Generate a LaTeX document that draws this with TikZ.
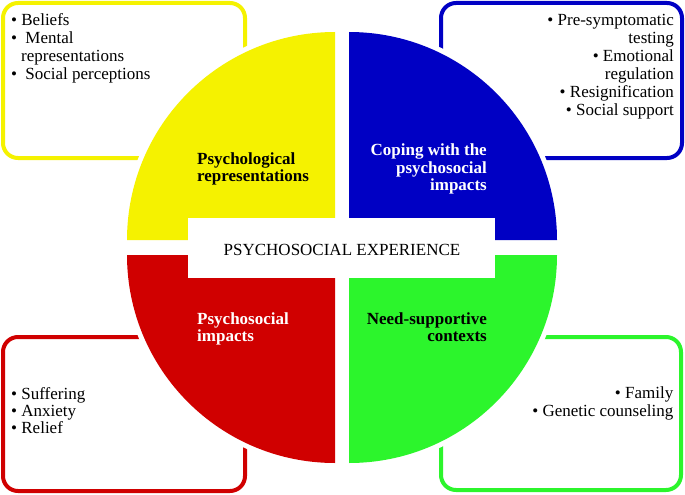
\documentclass[tikz,border=0pt]{standalone}
\usepackage{fontspec}
\setmainfont{Liberation Serif}
\definecolor{qyellow}{RGB}{245,242,0}
\definecolor{qblue}{RGB}{0,0,196}
\definecolor{qred}{RGB}{208,0,0}
\definecolor{qgreen}{RGB}{44,245,44}
\begin{document}
\begin{tikzpicture}[x=1pt,y=-1pt,
  box/.style={line width=4pt, rounded corners=15pt, fill=white},
  txt/.style={inner sep=0pt, font=\fontsize{17}{18}\selectfont},
  lab/.style={inner sep=0pt, font=\fontsize{17}{18}\selectfont\bfseries},
  halo/.style={draw=white, line width=10pt}]
\useasboundingbox (0,0) rectangle (685,495);
% corner boxes
\draw[box, draw=qyellow] (3,3) rectangle (245,158);
\draw[box, draw=qblue] (441,3) rectangle (682,158);
\draw[box, draw=qred] (3,337) rectangle (245,491);
\draw[box, draw=qgreen] (441,337) rectangle (681,490);
% halos of the quadrants
\draw[halo] (335,240) -- (127,240) arc[start angle=180,end angle=270,radius=208] -- cycle;
\draw[halo] (349,240) -- (349,32) arc[start angle=270,end angle=360,radius=208] -- cycle;
\draw[halo] (335,255) -- (127,255) arc[start angle=180,end angle=90,radius=208] -- cycle;
\draw[halo] (349,255) -- (557,255) arc[start angle=0,end angle=90,radius=208] -- cycle;
% quadrants
\fill[qyellow] (335,240) -- (127,240) arc[start angle=180,end angle=270,radius=208] -- cycle;
\fill[qblue] (349,240) -- (349,32) arc[start angle=270,end angle=360,radius=208] -- cycle;
\fill[qred] (335,255) -- (127,255) arc[start angle=180,end angle=90,radius=208] -- cycle;
\fill[qgreen] (349,255) -- (557,255) arc[start angle=0,end angle=90,radius=208] -- cycle;
% centre band
\fill[white] (188,218) rectangle (495,278);
\node[txt, anchor=base] (center) at (342,255) {PSYCHOSOCIAL EXPERIENCE};
% quadrant labels
\node[lab, anchor=base west] (yl1) at (197,164) {Psychological};
\node[lab, anchor=base west] (yl2) at (197,181.5) {representations};
\node[lab, anchor=base east, text=white] (bl1) at (487,155.5) {Coping with the};
\node[lab, anchor=base east, text=white] (bl2) at (487,173) {psychosocial};
\node[lab, anchor=base east, text=white] (bl3) at (487,190.5) {impacts};
\node[lab, anchor=base west, text=white] (rl1) at (197,324) {Psychosocial};
\node[lab, anchor=base west, text=white] (rl2) at (197,341.5) {impacts};
\node[lab, anchor=base east] (gl1) at (487,324) {Need-supportive};
\node[lab, anchor=base east] (gl2) at (487,341.5) {contexts};
% yellow box items
\node[txt, anchor=base west] (y1) at (11,26) {• Beliefs};
\node[txt, anchor=base west] (y2) at (11,44) {•\hspace{4pt} Mental};
\node[txt, anchor=base west] (y3) at (21,62) {representations};
\node[txt, anchor=base west] (y4) at (11,79.5) {•\hspace{4pt} Social perceptions};
% blue box items
\node[txt, anchor=base east] (b1) at (674,26) {• Pre-symptomatic};
\node[txt, anchor=base east] (b2) at (674,44) {testing};
\node[txt, anchor=base east] (b3) at (674,62) {• Emotional};
\node[txt, anchor=base east] (b4) at (674,80) {regulation};
\node[txt, anchor=base east] (b5) at (674,97.5) {• Resignification};
\node[txt, anchor=base east] (b6) at (674,115) {• Social support};
% red box items
\node[txt, anchor=base west] (r1) at (11,399) {• Suffering};
\node[txt, anchor=base west] (r2) at (11,416) {• Anxiety};
\node[txt, anchor=base west] (r3) at (11,433.5) {• Relief};
% green box items
\node[txt, anchor=base east] (g1) at (673.5,398) {• Family};
\node[txt, anchor=base east] (g2) at (673.5,416) {• Genetic counseling};
\end{tikzpicture}
\end{document}
